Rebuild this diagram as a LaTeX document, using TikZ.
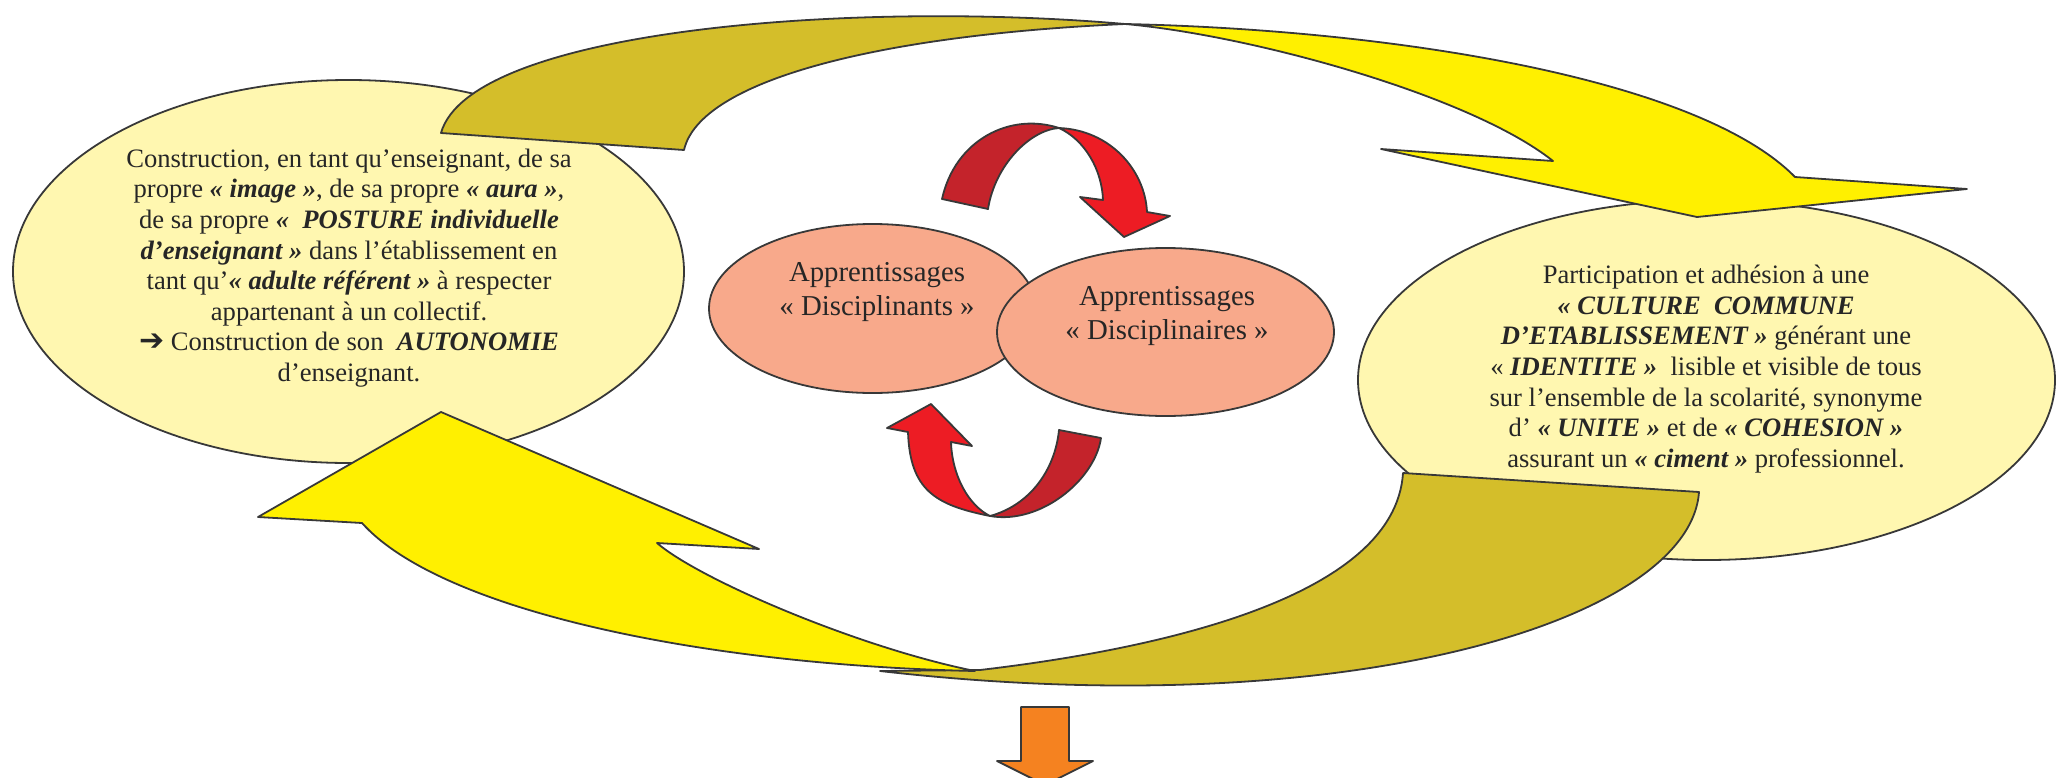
\documentclass[tikz,border=0pt]{standalone}
\usepackage{fontspec}
\setmainfont{Liberation Serif}[BoldFont={* Bold}, ItalicFont={* Italic}, BoldItalicFont={* Bold Italic}]
\newfontfamily\arrowglyphs{DejaVu Sans}
\usetikzlibrary{shapes.geometric}

\definecolor{paleyellow}{HTML}{FFF7B0}
\definecolor{brightyellow}{HTML}{FFF000}
\definecolor{ribbonback}{HTML}{D4BE2A}
\definecolor{redbright}{HTML}{ED1C24}
\definecolor{reddark}{HTML}{C4232B}
\definecolor{salmon}{HTML}{F8A98B}
\definecolor{orangearrow}{HTML}{F58220}
\definecolor{linegray}{HTML}{383838}
\definecolor{textgray}{HTML}{262626}

\newcommand{\bitext}[1]{\textbf{\textit{#1}}}

\begin{document}
\begin{tikzpicture}[x=0.5pt,y=-0.5pt,
  outline/.style={draw=linegray, line width=0.9pt, line join=round},
  bigell/.style={ellipse, outline, fill=paleyellow, inner sep=0pt},
  pinkell/.style={ellipse, outline, fill=salmon, inner sep=0pt},
  bodytext/.style={align=center, text=textgray, inner sep=0pt,
    font=\fontsize{13.3}{15.3}\selectfont},
  pinktext/.style={align=center, text=textgray, inner sep=0pt,
    font=\fontsize{14.4}{16.6}\selectfont}]
\useasboundingbox (0,0) rectangle (2062,777);
\clip (0,0) rectangle (2062,777);

% the two large pale ellipses
\node[bigell, minimum width=335.5pt, minimum height=191.5pt] (left) at (348.5,271.5) {};
\node[bigell, minimum width=348.5pt, minimum height=180pt] (right) at (1706.5,380) {};

% upper ribbon arrow: back side (tail) then front side with head
\filldraw[outline, fill=ribbonback] (441,133) .. controls (470,30) and (850,0) .. (1125,24)
  .. controls (880,35) and (700,80) .. (684,150) -- cycle;
\filldraw[outline, fill=brightyellow] (1125,24) .. controls (1400,30) and (1700,80) .. (1795,177)
  -- (1967,189) -- (1697,217) -- (1381,149) -- (1553,161)
  .. controls (1470,95) and (1250,35) .. (1125,24) -- cycle;

% lower ribbon arrow: back side (tail) then front side with head
\filldraw[outline, fill=ribbonback] (880,671) -- (980,670)
  .. controls (1150,650) and (1395,600) .. (1403,473) -- (1699,492)
  .. controls (1690,620) and (1350,725) .. (880,671) -- cycle;
\filldraw[outline, fill=brightyellow] (975,671) .. controls (860,648) and (700,580) .. (657,543)
  -- (759,549) -- (441,412) -- (258,517) -- (362,523)
  .. controls (440,610) and (700,665) .. (975,671) -- cycle;

% texts of the large ellipses
\node[bodytext] (lefttext) at (349,268) {%
Construction, en tant qu’enseignant, de sa\\
propre \bitext{« image »}, de sa propre \bitext{« aura »},\\
de sa propre \bitext{«~~POSTURE individuelle}\\
\bitext{d’enseignant »} dans l’établissement en\\
tant qu’\bitext{« adulte référent »} à respecter\\
appartenant à un collectif.\\
{\arrowglyphs\fontsize{15}{15}\selectfont\textbf{➔}} Construction de son~~\bitext{AUTONOMIE}\\
d’enseignant.};

\node[bodytext] (righttext) at (1706,369) {%
Participation et adhésion à une\\
\bitext{« CULTURE~~COMMUNE}\\
\bitext{D’ETABLISSEMENT »} générant une\\
« \bitext{IDENTITE »}~~lisible et visible de tous\\
sur l’ensemble de la scolarité, synonyme\\
d’ \bitext{« UNITE »} et de \bitext{« COHESION »}\\
assurant un \bitext{« ciment »} professionnel.};

% upper circular red arrow
\filldraw[outline, fill=reddark] (942,199) .. controls (955,140) and (1010,112) .. (1059,128)
  .. controls (1030,130) and (995,165) .. (988,209) -- cycle;
\filldraw[outline, fill=redbright] (1059,128) .. controls (1110,130) and (1145,170) .. (1147,212)
  -- (1170,216) -- (1124,237) -- (1080,197) -- (1103,200)
  .. controls (1102,170) and (1085,140) .. (1059,128) -- cycle;

% lower circular red arrow
\filldraw[outline, fill=redbright] (931,404) -- (887,428) -- (908,432)
  .. controls (910,490) and (935,505) .. (990,516)
  .. controls (968,505) and (952,475) .. (951,442) -- (972,446) -- cycle;
\filldraw[outline, fill=reddark] (990,516) .. controls (1040,525) and (1095,480) .. (1101,438)
  -- (1059,430) .. controls (1055,470) and (1030,505) .. (990,516) -- cycle;

% the two learning ellipses
\node[pinkell, minimum width=163.5pt, minimum height=84.5pt] (disciplinants) at (872.5,308.5) {};
\node[pinkell, minimum width=168.5pt, minimum height=84pt] (disciplinaires) at (1165.5,332) {};
\node[pinktext] (disciplinantstext) at (877,292) {Apprentissages\\« Disciplinants »};
\node[pinktext] (disciplinairestext) at (1167,316) {Apprentissages\\« Disciplinaires »};

% downward orange arrow
\coordinate (downtip) at (1045,785);
\filldraw[outline, fill=orangearrow] (1021,707) -- (1069,707) -- (1069,761) -- (1093,761)
  -- (downtip) -- (997,761) -- (1021,761) -- cycle;
\end{tikzpicture}
\end{document}
